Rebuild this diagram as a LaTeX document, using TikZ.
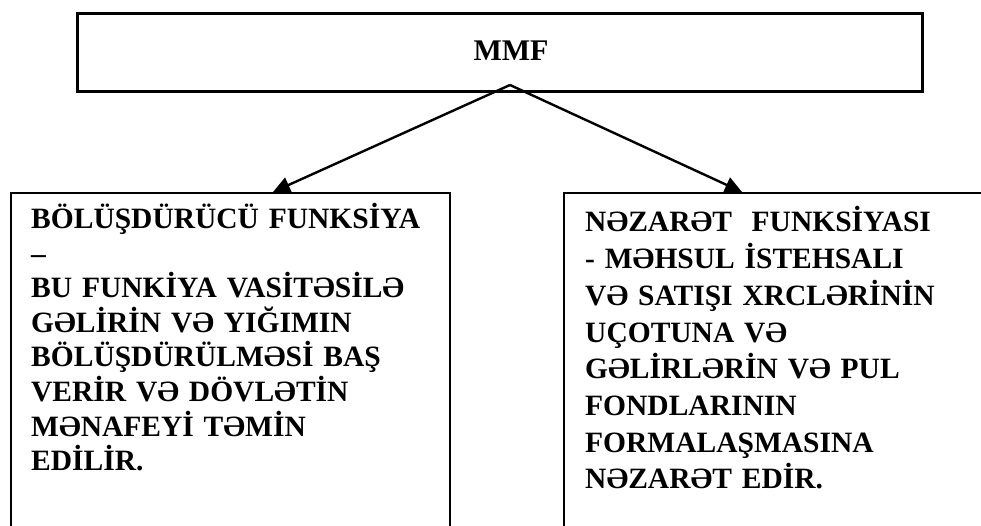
\documentclass[tikz,border=0pt]{standalone}
\usepackage{fontspec}
\setmainfont{Liberation Serif}
\usetikzlibrary{arrows.meta}
\begin{document}
\begin{tikzpicture}[x=1pt,y=-1pt,
  frame/.style={draw, line width=2.2pt, inner sep=0pt, anchor=north west},
  bodytext/.style={inner sep=0pt, anchor=base west, align=left},
  link/.style={line width=2.4pt, -{Triangle[length=17pt,width=16pt]}}]
\useasboundingbox (0,0) rectangle (981,526);
\clip (0,0) rectangle (981,526);
% top box
\node[frame, line width=2.8pt, minimum width=845pt, minimum height=78pt] (mmf) at (76,12) {};
\node[inner sep=0pt, anchor=base, font=\bfseries\fontsize{30}{34}\selectfont] (mmftext) at (511,61) {MMF};
% the two function boxes, running past the lower edge
\node[frame, minimum width=439pt, minimum height=400pt] (lbox) at (10,192) {};
\node[frame, minimum width=450pt, minimum height=400pt] (rbox) at (563,192) {};
% arrows
\coordinate (apex) at (510,85);
\coordinate (ltip) at (273,192);
\coordinate (rtip) at (742,192);
\draw[link] (apex) -- (ltip);
\draw[link] (apex) -- (rtip);
% texts
\node[bodytext, text width=430pt, font=\bfseries\fontsize{29.5}{34.5}\selectfont] (ltext) at (31,229)
  {BÖLÜŞDÜRÜCÜ FUNKSİYA\\–\\BU FUNKİYA VASİTƏSİLƏ\\GƏLİRİN VƏ YIĞIMIN\\BÖLÜŞDÜRÜLMƏSİ BAŞ\\VERİR VƏ DÖVLƏTİN\\MƏNAFEYİ TƏMİN\\EDİLİR.};
\node[bodytext, text width=400pt, font=\bfseries\fontsize{29.5}{36.7}\selectfont] (rtext) at (585,232)
  {NƏZARƏT\ \ FUNKSİYASI\\- MƏHSUL İSTEHSALI\\VƏ SATIŞI XRCLƏRİNİN\\UÇOTUNA VƏ\\GƏLİRLƏRİN VƏ PUL\\FONDLARININ\\FORMALAŞMASINA\\NƏZARƏT EDİR.};
\end{tikzpicture}
\end{document}
